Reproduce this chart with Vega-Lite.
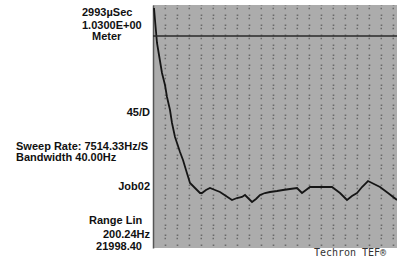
{
  "$schema": "https://vega.github.io/schema/vega-lite/v6.json",
  "width": 244,
  "height": 243,
  "autosize": {"type": "none"},
  "padding": {"left": 153, "top": 5, "right": 0, "bottom": 11},
  "background": "#ffffff",
  "config": {
    "view": {"fill": "#acacac", "stroke": null},
    "font": "Liberation Sans"
  },
  "datasets": {
    "curve": [
      {"x": 1, "y": 240}, {"x": 2, "y": 228}, {"x": 4, "y": 205}, {"x": 6, "y": 193}, {"x": 9, "y": 175},
      {"x": 12, "y": 163}, {"x": 14, "y": 151}, {"x": 17, "y": 138}, {"x": 19, "y": 125}, {"x": 22, "y": 111},
      {"x": 24, "y": 105}, {"x": 27, "y": 96}, {"x": 30, "y": 88}, {"x": 33, "y": 78}, {"x": 37, "y": 65},
      {"x": 42, "y": 60}, {"x": 47, "y": 55}, {"x": 49, "y": 55}, {"x": 53, "y": 58}, {"x": 57, "y": 60},
      {"x": 62, "y": 58}, {"x": 67, "y": 56}, {"x": 73, "y": 52}, {"x": 79, "y": 48}, {"x": 84, "y": 50},
      {"x": 89, "y": 51}, {"x": 92, "y": 53}, {"x": 95, "y": 50}, {"x": 99, "y": 46}, {"x": 103, "y": 49},
      {"x": 107, "y": 53}, {"x": 112, "y": 55}, {"x": 117, "y": 56}, {"x": 124, "y": 57}, {"x": 130, "y": 58},
      {"x": 137, "y": 59}, {"x": 144, "y": 60}, {"x": 149, "y": 55}, {"x": 153, "y": 58}, {"x": 157, "y": 61},
      {"x": 167, "y": 61}, {"x": 179, "y": 61}, {"x": 187, "y": 55}, {"x": 194, "y": 48}, {"x": 199, "y": 52},
      {"x": 204, "y": 55}, {"x": 209, "y": 61}, {"x": 215, "y": 67}, {"x": 221, "y": 64}, {"x": 227, "y": 61},
      {"x": 235, "y": 55}, {"x": 244, "y": 48}
    ],
    "ref": [{"y": 212}],
    "labelsL": [
      {"label": "2993\u00b5Sec", "x": -71, "y": 235},
      {"label": "1.0300E+00", "x": -71, "y": 222},
      {"label": "Meter", "x": -61, "y": 211},
      {"label": "Sweep Rate: 7514.33Hz/S", "x": -137, "y": 101},
      {"label": "Bandwidth 40.00Hz", "x": -137, "y": 90},
      {"label": "Range Lin", "x": -64, "y": 27}
    ],
    "labelsR": [
      {"label": "45/D", "x": -3, "y": 135},
      {"label": "Job02", "x": -3, "y": 61},
      {"label": "200.24Hz", "x": -3, "y": 13},
      {"label": "21998.40", "x": -11, "y": 1}
    ],
    "brand": [{"label": "Techron TEF\u00ae", "x": 197, "y": -5}]
  },
  "layer": [
    {
      "data": {"name": "curve"},
      "mark": {"type": "line", "color": "#151515", "strokeWidth": 1.8, "clip": true},
      "encoding": {
        "x": {"field": "x", "type": "quantitative", "scale": {"domain": [0, 244], "nice": false, "zero": false},
          "axis": {"values": [12, 24, 36, 48, 60, 72, 84, 96, 108, 120, 132, 144, 156, 168, 180, 192, 204, 216, 228, 240],
            "tickCount": 40,
            "grid": true, "gridColor": "#5a5a5a", "gridDash": [1.5, 8.5], "gridDashOffset": 1, "gridWidth": 1.6, "gridOpacity": 0.8,
            "labels": false, "ticks": false, "domain": false, "title": null}},
        "y": {"field": "y", "type": "quantitative", "scale": {"domain": [0, 243], "nice": false, "zero": false},
          "axis": {"values": [10, 20, 30, 40, 50, 60, 70, 80, 90, 100, 110, 120, 130, 140, 150, 160, 170, 180, 190, 200, 210, 220, 230, 240],
            "tickCount": 40,
            "grid": true, "gridColor": "#5a5a5a", "gridDash": [1.5, 10.5], "gridDashOffset": 1, "gridWidth": 1.6, "gridOpacity": 0.8,
            "labels": false, "ticks": false, "domain": true, "domainColor": "#555555", "domainWidth": 1.5, "title": null}}
      }
    },
    {
      "data": {"name": "ref"},
      "mark": {"type": "rule", "color": "#2a2a2a", "strokeWidth": 1.3},
      "encoding": {"y": {"field": "y", "type": "quantitative"}}
    },
    {
      "data": {"name": "labelsL"},
      "mark": {"type": "text", "align": "left", "baseline": "middle", "fontWeight": "bold", "fontSize": 11, "color": "#111111"},
      "encoding": {
        "x": {"field": "x", "type": "quantitative"},
        "y": {"field": "y", "type": "quantitative"},
        "text": {"field": "label"}
      }
    },
    {
      "data": {"name": "labelsR"},
      "mark": {"type": "text", "align": "right", "baseline": "middle", "fontWeight": "bold", "fontSize": 11, "color": "#111111"},
      "encoding": {
        "x": {"field": "x", "type": "quantitative"},
        "y": {"field": "y", "type": "quantitative"},
        "text": {"field": "label"}
      }
    },
    {
      "data": {"name": "brand"},
      "mark": {"type": "text", "align": "center", "baseline": "middle", "fontSize": 10, "color": "#333333", "font": "DejaVu Sans Mono"},
      "encoding": {
        "x": {"field": "x", "type": "quantitative"},
        "y": {"field": "y", "type": "quantitative"},
        "text": {"field": "label"}
      }
    }
  ]
}
